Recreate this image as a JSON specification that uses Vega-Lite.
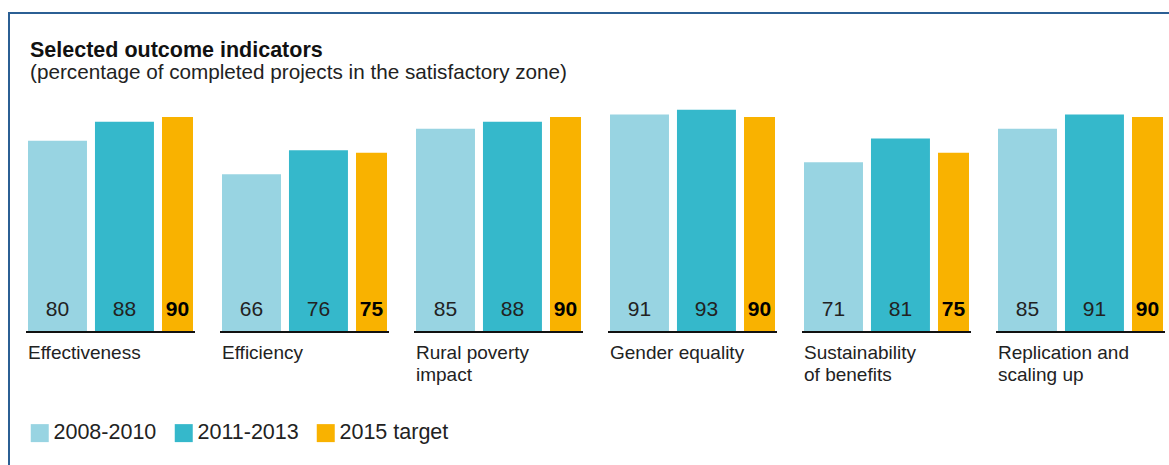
{
  "$schema": "https://vega.github.io/schema/vega-lite/v6.json",
  "width": 1170,
  "height": 462,
  "autosize": {"type": "none"},
  "padding": {"left": 9, "top": 13, "right": -10, "bottom": -10},
  "background": "white",
  "config": {
    "view": {"stroke": "#2B5F94", "strokeWidth": 2},
    "font": "Liberation Sans"
  },
  "title": {
    "text": "Selected outcome indicators",
    "subtitle": "(percentage of completed projects in the satisfactory zone)",
    "anchor": "start",
    "orient": "top",
    "frame": "group",
    "offset": -70,
    "dx": 21,
    "fontSize": 21.5,
    "fontWeight": "bold",
    "color": "#111111",
    "subtitleFontSize": 20.7,
    "subtitleColor": "#222222",
    "subtitlePadding": 2
  },
  "data": {
    "values": [
      {"indicator": "Effectiveness", "series": "2008-2010", "value": 80},
      {"indicator": "Effectiveness", "series": "2011-2013", "value": 88},
      {"indicator": "Effectiveness", "series": "2015 target", "value": 90},
      {"indicator": "Efficiency", "series": "2008-2010", "value": 66},
      {"indicator": "Efficiency", "series": "2011-2013", "value": 76},
      {"indicator": "Efficiency", "series": "2015 target", "value": 75},
      {"indicator": "Rural poverty\nimpact", "series": "2008-2010", "value": 85},
      {"indicator": "Rural poverty\nimpact", "series": "2011-2013", "value": 88},
      {"indicator": "Rural poverty\nimpact", "series": "2015 target", "value": 90},
      {"indicator": "Gender equality", "series": "2008-2010", "value": 91},
      {"indicator": "Gender equality", "series": "2011-2013", "value": 93},
      {"indicator": "Gender equality", "series": "2015 target", "value": 90},
      {"indicator": "Sustainability\nof benefits", "series": "2008-2010", "value": 71},
      {"indicator": "Sustainability\nof benefits", "series": "2011-2013", "value": 81},
      {"indicator": "Sustainability\nof benefits", "series": "2015 target", "value": 75},
      {"indicator": "Replication and\nscaling up", "series": "2008-2010", "value": 85},
      {"indicator": "Replication and\nscaling up", "series": "2011-2013", "value": 91},
      {"indicator": "Replication and\nscaling up", "series": "2015 target", "value": 90}
    ]
  },
  "encoding": {
    "x": {
      "field": "indicator",
      "type": "nominal",
      "sort": null,
      "axis": null,
      "scale": {"paddingInner": 0.1495, "paddingOuter": 0.0902, "align": 0.543}
    }
  },
  "layer": [
    {
      "transform": [{"filter": "datum.series !== '2015 target'"}],
      "encoding": {
        "xOffset": {
          "field": "series",
          "type": "nominal",
          "scale": {"domain": ["2008-2010", "2011-2013"], "paddingInner": 0.1194, "paddingOuter": 0.2916, "align": 0}
        }
      },
      "layer": [
        {
          "mark": {"type": "bar"},
          "encoding": {
            "y": {
              "field": "value",
              "type": "quantitative",
              "axis": null,
              "scale": {"domain": [-59.9, 133.5], "nice": false, "zero": false}
            },
            "color": {
              "field": "series",
              "type": "nominal",
              "scale": {"domain": ["2008-2010", "2011-2013", "2015 target"], "range": ["#98D4E2", "#35B8CB", "#F9B200"]},
              "legend": {
                "title": null,
                "orient": "none",
                "legendX": 20,
                "legendY": 409,
                "direction": "horizontal",
                "symbolType": "square",
                "symbolSize": 324,
                "symbolStrokeWidth": 0,
                "symbolOpacity": 1,
                "labelFontSize": 21.5,
                "labelColor": "#222222",
                "labelOffset": 3,
                "columnPadding": 16,
                "labelFont": "Liberation Sans"
              }
            }
          }
        },
        {
          "mark": {"type": "text", "fontSize": 21, "color": "#222222", "baseline": "alphabetic", "dy": -16},
          "encoding": {
            "y": {"datum": 0, "type": "quantitative"},
            "text": {"field": "value", "type": "quantitative"}
          }
        }
      ]
    },
    {
      "transform": [{"filter": "datum.series === '2015 target'"}],
      "encoding": {
        "xOffset": {
          "field": "series",
          "type": "nominal",
          "scale": {"domain": ["2015 target"], "paddingInner": 0.5373, "paddingOuter": 1, "align": 1}
        }
      },
      "layer": [
        {
          "mark": {"type": "bar"},
          "encoding": {
            "y": {"field": "value", "type": "quantitative"},
            "color": {"field": "series", "type": "nominal"}
          }
        },
        {
          "mark": {"type": "text", "fontSize": 21, "fontWeight": "bold", "color": "#000000", "baseline": "alphabetic", "dy": -16},
          "encoding": {
            "y": {"datum": 0, "type": "quantitative"},
            "text": {"field": "value", "type": "quantitative"}
          }
        }
      ]
    },
    {
      "transform": [{"filter": "datum.series === '2015 target'"}],
      "mark": {"type": "tick", "size": 169, "thickness": 2, "color": "#111111", "opacity": 1},
      "encoding": {
        "y": {"datum": 0, "type": "quantitative"}
      }
    },
    {
      "transform": [{"filter": "datum.series === '2015 target'"}],
      "mark": {"type": "text", "align": "left", "baseline": "top", "fontSize": 19, "color": "#222222", "lineBreak": "\n", "lineHeight": 22, "dy": 12},
      "encoding": {
        "x": {"field": "indicator", "type": "nominal", "sort": null, "bandPosition": 0},
        "y": {"datum": 0, "type": "quantitative"},
        "text": {"field": "indicator", "type": "nominal"}
      }
    }
  ],
  "resolve": {"scale": {"xOffset": "independent"}}
}
